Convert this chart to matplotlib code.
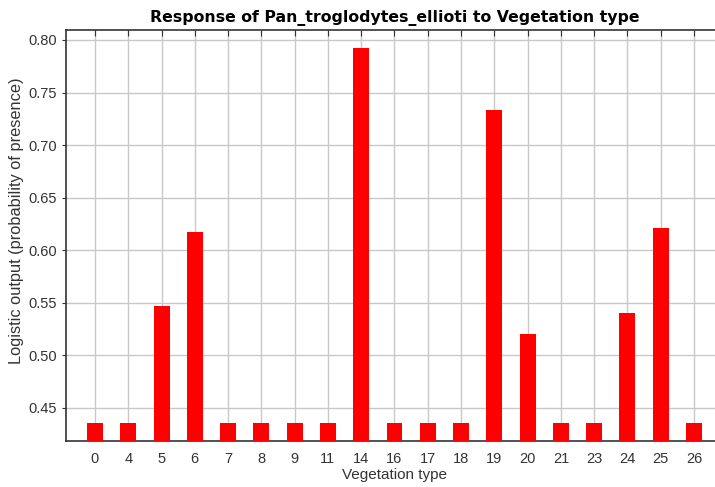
import matplotlib
matplotlib.use("Agg")
import matplotlib.pyplot as plt
import numpy as np

# Maxent-style response of one species to a categorical variable
categories = ['0', '4', '5', '6', '7', '8', '9', '11', '14', '16', '17', '18',
              '19', '20', '21', '23', '24', '25', '26']
response = [0.436, 0.436, 0.547, 0.617, 0.436, 0.436, 0.436, 0.436, 0.792, 0.436,
            0.436, 0.436, 0.733, 0.520, 0.436, 0.436, 0.540, 0.621, 0.436]
yticks = [0.45, 0.50, 0.55, 0.60, 0.65, 0.70, 0.75, 0.80]

plt.rcParams['font.family'] = ['Liberation Sans', 'DejaVu Sans']

fig = plt.figure(figsize=(7.15, 4.87), dpi=100)
ax = fig.add_axes([66 / 715, 46 / 487, 657 / 715, 411 / 487])

x = np.arange(len(categories))
ax.bar(x, response, width=0.48, color='#ff0000', zorder=3)

ax.set_xlim(-0.87, len(categories) - 1 + 0.87)
ax.set_ylim(0.4186, 0.8095)
ax.set_xticks(x)
ax.set_xticklabels(categories)
ax.set_yticks(yticks)
ax.set_yticklabels(['%.2f' % v for v in yticks])

ax.grid(True, color='#c8c8c8', linewidth=1.0, zorder=0)
ax.tick_params(axis='x', which='both', bottom=False, top=True, direction='in',
               length=4, labelsize=10.5, pad=8, colors='#333333')
ax.tick_params(axis='y', direction='out', length=3, labelsize=10.5, colors='#333333')

for side in ['left', 'bottom', 'top']:
    ax.spines[side].set_color('#333333')
    ax.spines[side].set_linewidth(1.2)
ax.spines['right'].set_visible(False)

ax.set_title('Response of Pan_troglodytes_ellioti to Vegetation type',
             fontsize=11.3, fontweight='bold', pad=6, family='DejaVu Sans')
ax.set_xlabel('Vegetation type', fontsize=11, labelpad=1, color='#333333')
ax.set_ylabel('Logistic output (probability of presence)', fontsize=11.8,
              color='#333333')
ax.yaxis.set_label_coords(-0.064, 0.535)

fig.savefig('out.png', dpi=100)
